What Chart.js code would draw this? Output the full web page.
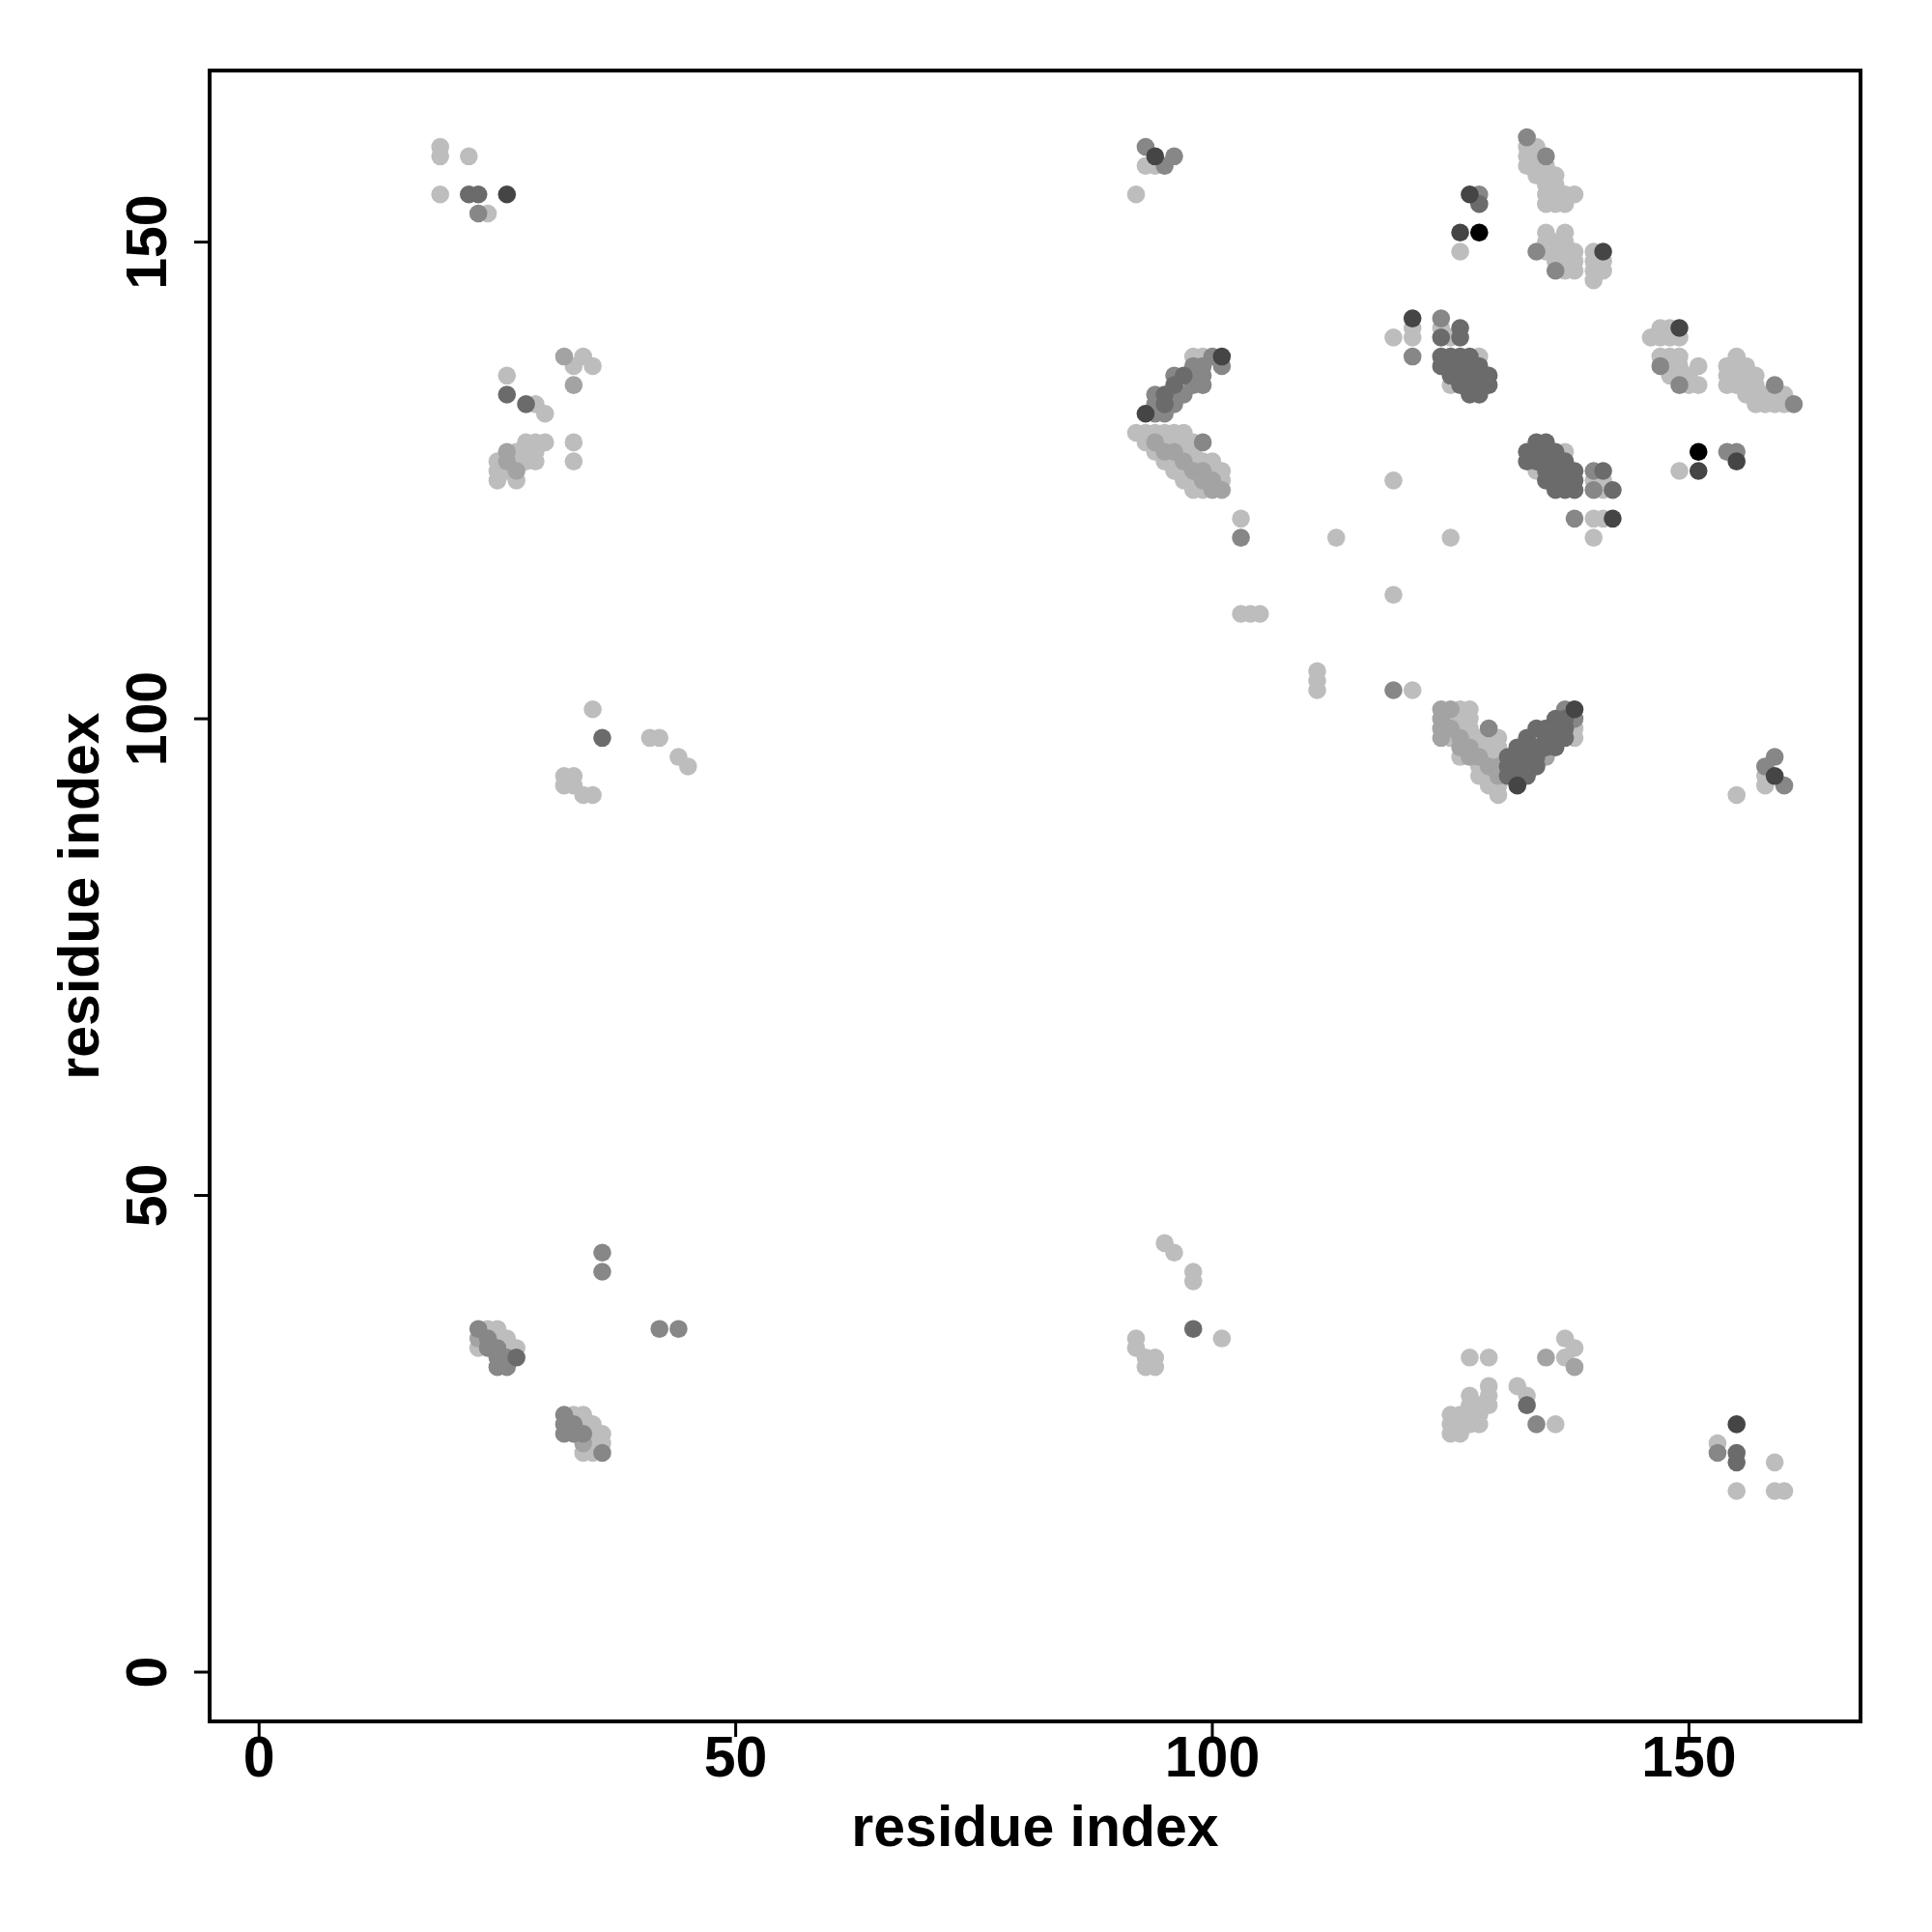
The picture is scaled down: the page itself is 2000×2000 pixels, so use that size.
<!DOCTYPE html>
<html>
<head>
<meta charset="utf-8">
<script src="https://cdn.jsdelivr.net/npm/chart.js@4.4.1/dist/chart.umd.min.js"></script>
<style>
  html, body { margin: 0; padding: 0; background: #ffffff; }
  #wrap { width: 2000px; height: 2000px; }
</style>
</head>
<body>
<div id="wrap"><canvas id="c" width="2000" height="2000"></canvas></div>
<script>
// ---- data: contact points (residue i, residue j, intensity level 1..6) ----
const residueI = [
  // top-left
  19,19,22,19,22,23,26,23,24,
  // left upper
  32,34,33,35,33,26,26,28,29,30,33,33,28,29,30,26,27,28,29,25,26,27,28,29,25,26,27,25,27,
  // left middle
  35,36,41,42,44,45,32,33,32,33,34,35,
  // bottom-left
  36,36,42,44,23,24,25,23,24,25,26,23,24,25,26,27,25,26,27,25,26,
  32,33,34,32,33,34,35,32,33,34,35,36,34,35,36,34,35,36,
  // middle top
  93,94,93,94,95,96,92,
  // middle upper band
  98,99,100,101,98,99,101,96,97,98,99,96,97,98,99,94,95,96,97,94,95,96,93,94,95,
  // middle lower band
  92,93,94,95,96,97,
  93,94,95,96,97,98,99,
  94,95,96,97,98,
  95,96,97,98,99,100,
  96,97,98,99,100,101,
  97,98,99,100,101,
  98,99,100,101,
  // scattered
  103,103,113,125,119,119,103,104,105,111,111,111,119,121,
  // right top
  133,133,134,133,134,135,133,134,135,134,135,136,135,136,135,136,137,138,135,136,137,
  127,128,128,126,128,126,
  135,137,135,136,137,134,135,136,137,138,136,137,138,136,137,138,
  140,141,140,141,140,141,140,
  // right upper-left block
  121,124,121,124,126,119,121,124,125,126,
  121,124,125,126,127,128,124,125,126,127,128,125,126,127,128,129,125,126,127,128,129,127,128,
  // right lower block
  134,135,133,134,135,136,137,133,134,135,136,137,134,135,136,137,138,135,136,137,138,136,137,138,
  140,141,140,141,140,141,142,138,140,141,142,140,
  // far right
  147,148,149,146,147,148,149,147,148,149,147,148,149,148,149,150,149,150,151,151,
  155,154,155,156,154,155,156,157,154,155,156,157,159,156,157,158,159,160,157,158,159,160,161,
  151,151,149,154,155,155,
  // V shape, left arm
  124,125,126,127,124,125,126,127,124,125,126,127,129,
  124,125,126,127,128,129,130,126,127,128,129,130,126,127,128,129,130,
  128,129,130,128,129,130,129,130,130,
  // V shape, right arm
  137,138,136,137,138,134,135,136,137,138,133,134,135,136,137,138,132,133,134,135,136,
  131,132,133,134,135,131,132,133,134,131,132,133,132,
  155,159,158,159,158,158,160,
  // middle bottom
  95,96,98,98,98,101,92,92,93,94,93,94,
  // right bottom
  127,129,135,137,138,137,138,
  129,129,129,127,127,128,126,127,128,125,125,126,127,128,125,126,
  132,133,133,134,136,
  155,153,153,155,155,159,155,159,160
];
const residueJ = [
  160,159,159,155,155,155,155,153,153,
  138,138,137,137,135,136,134,133,133,132,129,127,129,129,129,128,128,128,128,127,127,127,127,127,126,126,126,125,125,
  101,98,98,98,96,95,94,94,93,93,92,92,
  44,42,36,36,36,36,36,35,35,35,35,34,34,34,34,34,33,33,33,32,32,
  27,27,27,26,26,26,26,25,25,25,25,25,24,24,24,23,23,23,
  160,159,158,158,158,159,155,
  138,138,138,138,137,137,137,136,136,136,136,135,135,135,135,134,134,134,134,133,133,133,132,132,132,
  130,130,130,130,130,130,
  129,129,129,129,129,129,129,
  128,128,128,128,128,
  127,127,127,127,127,127,
  126,126,126,126,126,126,
  125,125,125,125,125,
  124,124,124,124,
  121,119,119,119,125,113,111,111,111,105,104,103,103,103,
  161,160,160,159,159,159,158,158,158,157,157,157,156,156,155,155,155,155,154,154,154,
  155,155,154,151,151,149,
  151,151,150,150,150,149,149,149,149,149,148,148,148,147,147,147,
  149,149,148,148,147,147,146,
  142,142,141,141,141,140,140,140,140,140,
  138,138,138,138,138,138,137,137,137,137,137,136,136,136,136,136,135,135,135,135,135,134,134,
  129,129,128,128,128,128,128,127,127,127,127,127,126,126,126,126,126,125,125,125,125,124,124,124,
  126,126,125,125,124,124,124,121,121,121,121,119,
  141,141,141,140,140,140,140,138,138,138,137,137,137,136,136,136,135,135,135,137,
  138,137,137,137,136,136,136,136,135,135,135,135,135,134,134,134,134,134,133,133,133,133,133,
  128,126,126,128,128,127,
  101,101,101,101,100,100,100,100,99,99,99,99,99,
  98,98,98,98,98,98,98,97,97,97,97,97,96,96,96,96,96,
  95,95,95,94,94,94,93,93,92,
  101,101,100,100,100,99,99,99,99,99,98,98,98,98,98,98,97,97,97,97,97,
  96,96,96,96,96,95,95,95,95,94,94,94,93,
  92,96,95,94,94,93,93,
  45,44,42,41,36,35,35,34,33,33,32,32,
  33,33,33,35,34,33,32,
  30,29,28,29,28,28,27,27,27,27,26,26,26,26,25,25,
  30,29,28,26,26,
  26,24,23,23,22,22,19,19,19
];
const level = [
  1,1,1,1,4,4,5,3,1,
  2,1,1,1,2,1,4,4,1,1,1,1,1,1,1,2,1,1,1,1,2,1,1,1,1,1,2,1,1,
  1,4,1,1,1,1,1,1,1,1,1,1,
  3,3,3,3,3,1,1,2,3,1,1,1,3,3,1,1,3,3,4,3,3,
  3,1,1,3,3,1,1,3,3,3,1,1,2,1,1,1,1,3,
  3,5,1,1,3,3,1,
  1,1,3,5,3,3,3,3,4,3,3,4,1,3,3,3,4,3,3,3,4,3,5,3,3,
  1,1,1,1,1,1,
  1,2,1,1,1,1,3,
  1,2,2,1,1,
  1,1,2,1,1,1,
  1,1,2,2,1,1,
  1,1,2,2,1,
  1,1,2,2,
  1,3,1,1,1,1,1,1,1,1,1,1,3,1,
  3,1,1,1,1,3,1,1,1,1,1,1,1,1,1,1,1,1,1,1,1,
  5,3,4,5,6,1,
  1,1,1,1,1,3,1,1,1,1,1,1,1,3,1,1,
  1,5,1,1,1,1,1,
  5,3,1,1,4,1,1,4,1,4,
  3,4,4,4,4,1,4,4,4,4,4,4,4,4,4,4,1,4,4,4,4,4,4,
  4,4,4,4,4,4,1,4,4,4,4,4,1,4,4,4,4,4,4,4,4,4,4,4,
  3,4,1,1,3,1,4,3,1,1,5,1,
  1,1,5,1,1,1,1,1,1,1,3,1,1,1,1,1,3,1,1,1,
  1,1,1,1,1,1,1,1,1,1,1,1,3,1,1,1,1,1,1,1,1,1,3,
  6,5,1,3,3,5,
  2,2,1,1,2,1,1,1,2,2,1,1,3,
  2,1,2,1,1,1,1,2,2,1,1,1,1,2,2,1,1,
  1,2,2,1,1,2,1,1,1,
  3,5,4,4,3,4,4,4,4,1,4,1,4,4,4,1,4,4,4,4,4,
  4,4,4,4,2,4,4,4,4,4,4,4,5,
  1,3,3,5,1,1,3,
  1,1,1,1,4,1,1,1,1,1,1,1,
  1,1,2,1,1,1,2,
  1,1,1,1,1,1,1,1,1,1,1,1,1,1,1,1,
  1,1,4,3,1,
  5,1,3,4,4,1,1,1,1
];
const tickValues = [0, 50, 100, 150];
const xTitle = 'residue index';
const yTitle = 'residue index';

// ---- styles ----
const GRAYS = ['#ffffff', '#bdbdbd', '#a3a3a3', '#878787', '#6b6b6b', '#454545', '#000000'];
const FONT = '"Liberation Sans", Arial, Helvetica, sans-serif';

const n = Math.min(residueI.length, residueJ.length, level.length);
const pts = [];
for (let k = 0; k < n; k++) pts.push({ x: residueI[k], y: residueJ[k], lv: level[k] });
pts.sort((a, b) => a.lv - b.lv);

const axesPlugin = {
  id: 'rAxes',
  afterDraw(chart) {
    const { ctx, chartArea: a, scales } = chart;
    const xs = scales.x, ys = scales.y;
    ctx.save();
    ctx.strokeStyle = '#000';
    ctx.lineWidth = 4;
    ctx.strokeRect(a.left, a.top, a.right - a.left, a.bottom - a.top);
    ctx.lineWidth = 3;
    ctx.fillStyle = '#000';
    ctx.font = 'bold 59px ' + FONT;
    // x ticks
    tickValues.forEach(v => {
      const px = xs.getPixelForValue(v);
      ctx.beginPath(); ctx.moveTo(px, a.bottom); ctx.lineTo(px, a.bottom + 16); ctx.stroke();
      ctx.textAlign = 'center'; ctx.textBaseline = 'alphabetic';
      ctx.fillText(String(v), px, 1839);
    });
    // y ticks
    tickValues.forEach(v => {
      const py = ys.getPixelForValue(v);
      ctx.beginPath(); ctx.moveTo(a.left, py); ctx.lineTo(a.left - 16, py); ctx.stroke();
      ctx.save();
      ctx.translate(172, py); ctx.rotate(-Math.PI / 2);
      ctx.textAlign = 'center'; ctx.textBaseline = 'alphabetic';
      ctx.fillText(String(v), 0, 0);
      ctx.restore();
    });
    // titles
    ctx.textAlign = 'center'; ctx.textBaseline = 'alphabetic';
    ctx.fillText(xTitle, (a.left + a.right) / 2, 1911);
    ctx.save();
    ctx.translate(102, (a.top + a.bottom) / 2); ctx.rotate(-Math.PI / 2);
    ctx.fillText(yTitle, 0, 0);
    ctx.restore();
    ctx.restore();
  }
};

new Chart(document.getElementById('c'), {
  type: 'scatter',
  data: {
    datasets: [{
      data: pts.map(p => ({ x: p.x, y: p.y })),
      pointRadius: 9.3,
      pointHoverRadius: 9.3,
      pointBorderWidth: 0,
      pointBackgroundColor: pts.map(p => GRAYS[p.lv]),
      pointBorderColor: pts.map(p => GRAYS[p.lv]),
      showLine: false
    }]
  },
  options: {
    responsive: false,
    devicePixelRatio: 1,
    animation: false,
    events: [],
    layout: { padding: { left: 217, right: 74, top: 73, bottom: 218 } },
    plugins: { legend: { display: false }, tooltip: { enabled: false } },
    scales: {
      x: { type: 'linear', min: -5.19, max: 168.0, display: false },
      y: { type: 'linear', min: -5.17, max: 168.0, display: false }
    }
  },
  plugins: [axesPlugin]
});
</script>
</body>
</html>
